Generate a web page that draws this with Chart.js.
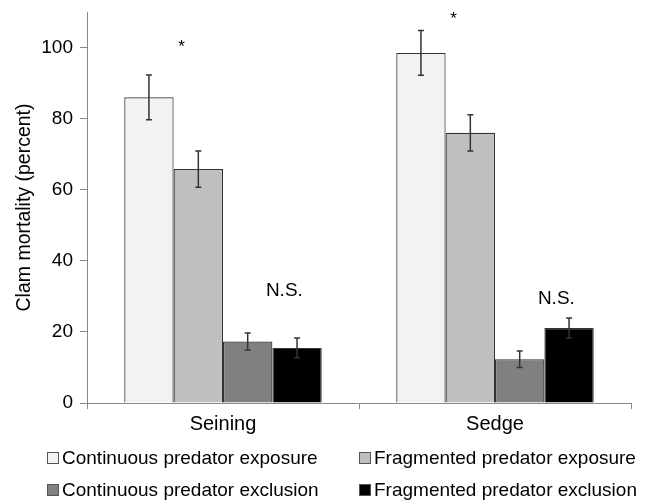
<!DOCTYPE html>
<html>
<head>
<meta charset="utf-8">
<script src="https://cdn.jsdelivr.net/npm/chart.js"></script>
<style>
  html, body { margin: 0; padding: 0; background: #fff; }
  #wrap { width: 650px; height: 501px; position: relative; }
</style>
</head>
<body>
<div id="wrap"><canvas id="mortalityChart"></canvas></div>

<script>
// Categorias y series
const categories = ['Seining', 'Sedge'];
const seriesNames = [
    'Continuous predator exposure',
    'Fragmented predator exposure',
    'Continuous predator exclusion',
    'Fragmented predator exclusion'
];
const contExposure = [86.0, 98.5];
const fragExposure = [65.8, 76.0];
const contExclusion = [17.3, 12.3];
const fragExclusion = [15.5, 21.1];

// Barras de error (+/-)
const contExposureErr = [6.3, 6.3];
const fragExposureErr = [5.1, 5.1];
const contExclusionErr = [2.4, 2.3];
const fragExclusionErr = [2.8, 2.8];

const seriesColors = ['#f2f2f2', '#bfbfbf', '#808080', '#000000'];
const yTicks = [0, 20, 40, 60, 80, 100];

// Etiquetas de significancia: texto, categoria, valor y
const sigTexts = ['*', '*', 'N.S.', 'N.S.'];
const sigCategory = [0, 1, 0, 1];
const sigValues = [100.2, 108.0, 31.6, 29.4];

const fontFamily = "'Liberation Sans', Arial, sans-serif";
Chart.defaults.font.family = fontFamily;
Chart.defaults.color = '#000';

const allValues = [contExposure, fragExposure, contExclusion, fragExclusion];
const allErrors = [contExposureErr, fragExposureErr, contExclusionErr, fragExclusionErr];

// Plugin: barras de error y etiquetas
const errorBarPlugin = {
    id: 'errorBars',
    afterDatasetsDraw(chart) {
        const ctx = chart.ctx;
        const yScale = chart.scales.y;
        ctx.save();
        ctx.strokeStyle = '#333';
        ctx.lineWidth = 1.5;
        allErrors.forEach(function(errs, i) {
            const meta = chart.getDatasetMeta(i);
            meta.data.forEach(function(bar, j) {
                const v = allValues[i][j];
                const top = yScale.getPixelForValue(v + errs[j]);
                const bottom = yScale.getPixelForValue(v - errs[j]);
                ctx.beginPath();
                ctx.moveTo(bar.x, top);
                ctx.lineTo(bar.x, bottom);
                ctx.moveTo(bar.x - 3, top);
                ctx.lineTo(bar.x + 3, top);
                ctx.moveTo(bar.x - 3, bottom);
                ctx.lineTo(bar.x + 3, bottom);
                ctx.stroke();
            });
        });

        // Etiquetas * y N.S.
        ctx.fillStyle = '#000';
        ctx.textAlign = 'center';
        ctx.textBaseline = 'middle';
        sigTexts.forEach(function(txt, k) {
            const cat = sigCategory[k];
            let x;
            if (txt === '*') {
                const b0 = chart.getDatasetMeta(0).data[cat];
                const b1 = chart.getDatasetMeta(1).data[cat];
                x = (b0.x + b1.x) / 2 + 8;
                ctx.font = '17px ' + fontFamily;
            } else {
                const b2 = chart.getDatasetMeta(2).data[cat];
                const b3 = chart.getDatasetMeta(3).data[cat];
                x = (b2.x + b3.x) / 2 + 12;
                ctx.font = '19px ' + fontFamily;
            }
            ctx.fillText(txt, x, yScale.getPixelForValue(sigValues[k]));
        });
        ctx.restore();
    }
};

// Plugin: leyenda en dos columnas
const legendPlugin = {
    id: 'customLegend',
    afterDraw(chart) {
        const ctx = chart.ctx;
        const cols = [47, 359];
        const rows = [458, 490];
        ctx.save();
        ctx.font = '19px ' + fontFamily;
        ctx.textAlign = 'left';
        ctx.textBaseline = 'middle';
        seriesNames.forEach(function(name, i) {
            const x = cols[i % 2];
            const y = rows[Math.floor(i / 2)];
            ctx.fillStyle = seriesColors[i];
            ctx.fillRect(x + 0.5, y - 5.5, 11, 11);
            ctx.strokeStyle = '#555';
            ctx.lineWidth = 1;
            ctx.strokeRect(x + 0.5, y - 5.5, 11, 11);
            ctx.fillStyle = '#000';
            ctx.fillText(name, x + 15, y + 1);
        });
        ctx.restore();
    }
};

const chartData = {
    labels: categories,
    datasets: seriesNames.map(function(name, i) {
        return {
            label: name,
            data: allValues[i],
            backgroundColor: seriesColors[i],
            borderColor: '#333',
            borderWidth: 1.2,
            categoryPercentage: 0.726,
            barPercentage: 1.0
        };
    })
};

new Chart(document.getElementById('mortalityChart'), {
    type: 'bar',
    data: chartData,
    options: {
        responsive: true,
        maintainAspectRatio: false,
        animation: false,
        layout: {
            padding: { top: 12, right: 19, bottom: 64, left: 0 }
        },
        plugins: {
            legend: { display: false },
            tooltip: { enabled: false }
        },
        scales: {
            x: {
                afterFit: function(scale) { scale.height = 34; },
                grid: {
                    offset: true,
                    drawOnChartArea: false,
                    tickLength: 6,
                    color: '#888'
                },
                border: { color: '#888', width: 1 },
                ticks: {
                    padding: 3,
                    font: { size: 20 },
                    color: '#000'
                }
            },
            y: {
                min: 0,
                max: 110,
                afterFit: function(scale) {
                    scale.width = 87;
                    scale.paddingTop = 0;
                    scale.paddingBottom = 0;
                },
                afterBuildTicks: function(scale) {
                    scale.ticks = yTicks.map(function(v) { return { value: v }; });
                },
                grid: {
                    drawOnChartArea: false,
                    tickLength: 7,
                    color: '#888'
                },
                border: { color: '#888', width: 1 },
                ticks: {
                    padding: 7,
                    font: { size: 19 },
                    color: '#000'
                },
                title: {
                    display: true,
                    text: 'Clam mortality (percent)',
                    font: { size: 19.5 },
                    color: '#000',
                    padding: { top: 13, bottom: 0 }
                }
            }
        }
    },
    plugins: [errorBarPlugin, legendPlugin]
});
</script>
</body>
</html>
